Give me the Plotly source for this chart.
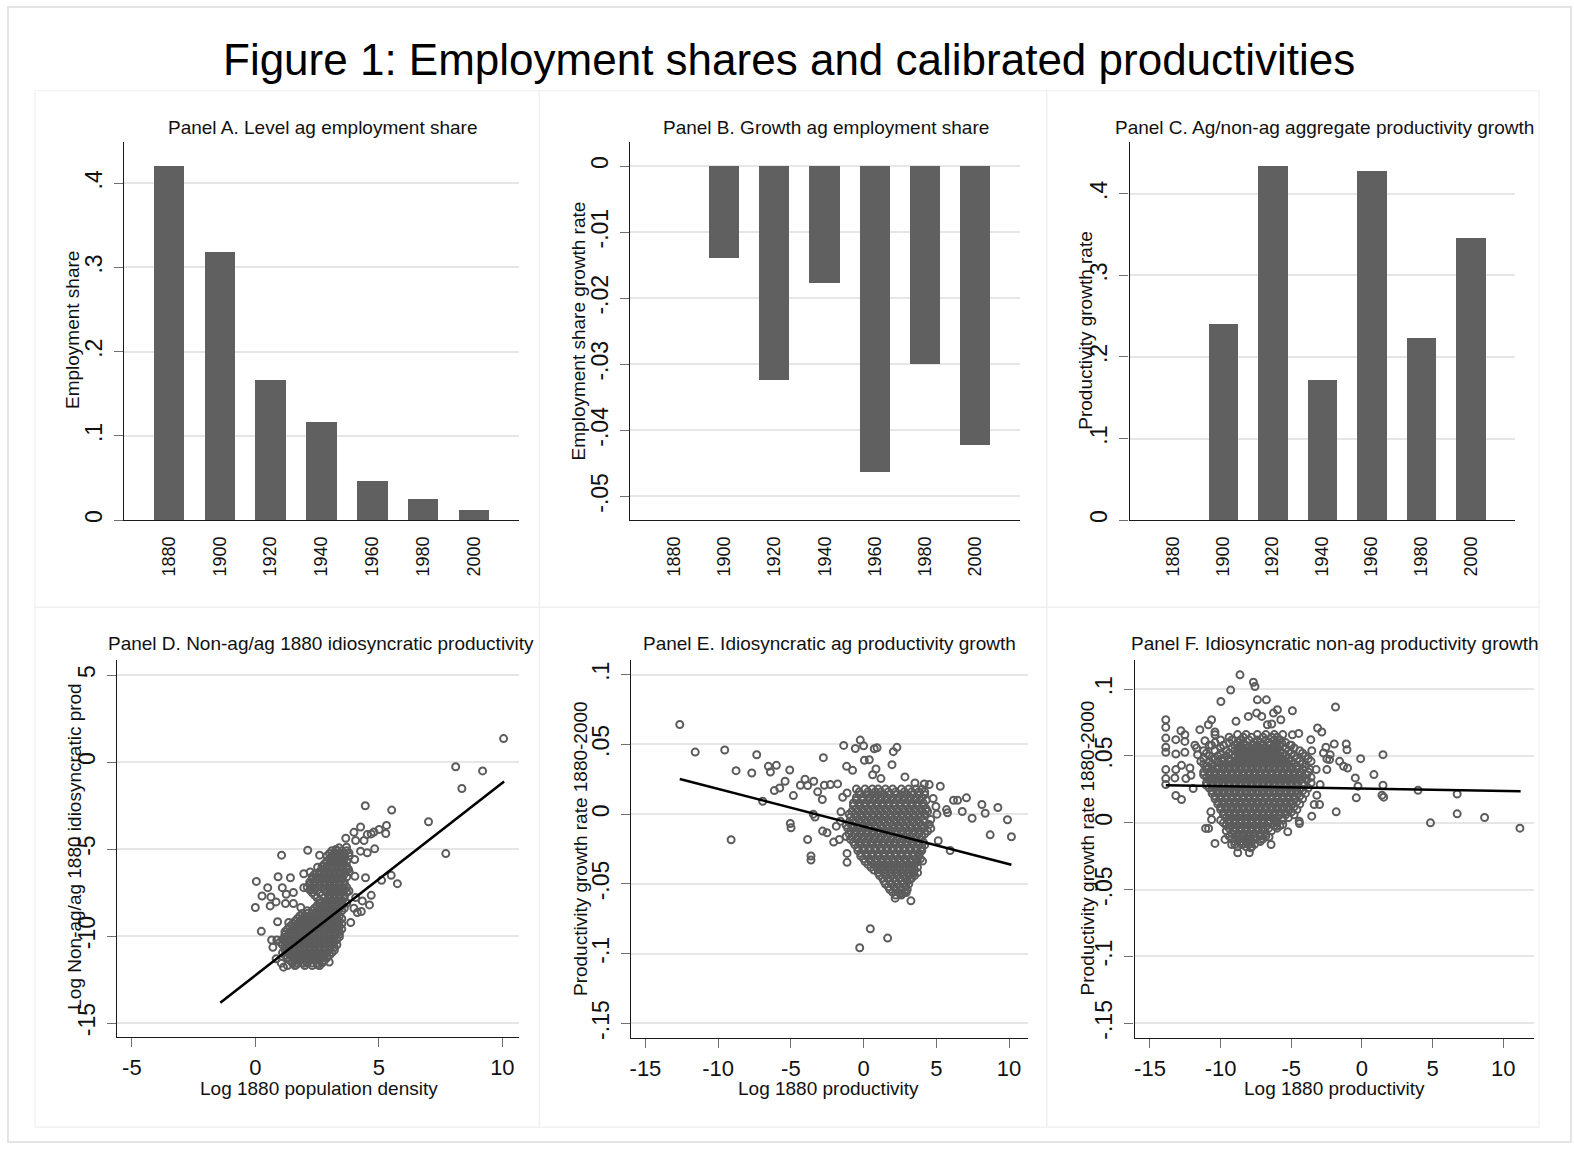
import plotly.graph_objects as go

# ---------------- data ----------------
years = [1880, 1900, 1920, 1940, 1960, 1980, 2000]
emp_share = [0.4204, 0.3189, 0.1668, 0.1170, 0.0469, 0.0261, 0.0122]
emp_growth = [None, -0.0139, -0.0323, -0.0177, -0.0463, -0.0299, -0.0421]
prod_growth = [None, 0.2413, 0.4341, 0.1722, 0.4286, 0.2232, 0.3465]

share_ticks = [0, 0.1, 0.2, 0.3, 0.4]
share_ticktext = ["0", ".1", ".2", ".3", ".4"]
growth_ticks = [0, -0.01, -0.02, -0.03, -0.04, -0.05]
growth_ticktext = ["0", "-.01", "-.02", "-.03", "-.04", "-.05"]
d_yticks = [5, 0, -5, -10, -15]
d_xticks = [-5, 0, 5, 10]
ef_yticks = [0.1, 0.05, 0, -0.05, -0.1, -0.15]
ef_yticktext = [".1", ".05", "0", "-.05", "-.1", "-.15"]
ef_xticks = [-15, -10, -5, 0, 5, 10]

# Panel D: scattered points (x, y)
D_points = [
    (10.05, 1.35), (8.11, -0.27), (9.20, -0.51), (8.36, -1.52), (7.01, -3.43), (7.71, -5.26),
    (4.45, -2.51), (5.52, -2.76), (5.31, -3.64), (5.28, -4.11), (5.01, -3.87), (4.80, -4.02),
    (4.69, -4.13), (4.53, -4.17), (4.26, -3.73), (3.99, -4.04), (3.66, -4.38), (4.06, -4.51),
    (4.40, -4.51), (4.83, -4.99), (4.26, -5.12), (4.53, -5.22), (5.50, -6.51), (5.75, -6.99),
    (5.11, -6.80), (4.46, -6.65), (4.03, -6.57), (4.69, -7.66), (4.62, -8.21), (4.29, -8.59),
    (3.99, -8.40), (3.86, -9.22), (1.06, -5.35), (2.12, -5.07), (2.60, -5.35), (0.04, -6.86),
    (0.92, -6.59), (1.42, -6.65), (0.50, -7.22), (0.27, -7.70), (0.63, -7.75), (0.00, -8.36),
    (0.60, -8.27), (0.84, -8.04), (1.09, -7.22), (1.25, -7.60), (1.54, -7.50), (1.54, -8.13),
    (1.22, -8.13), (0.24, -9.73), (1.84, -8.36), (0.90, -9.18), (0.66, -10.23), (0.87, -10.23),
    (1.35, -9.22), (1.96, -6.42), (2.22, -6.32), (1.96, -7.22), (2.25, -7.31), (2.52, -6.04),
    (2.72, -5.98), (3.53, -5.50), (3.79, -5.22), (4.02, -5.60), (3.77, -6.17), (3.79, -7.41),
    (4.06, -7.79), (4.33, -7.98), (4.13, -8.65), (2.99, -11.50), (2.52, -11.66), (1.96, -11.56),
    (1.65, -11.66), (1.14, -11.79), (1.05, -11.56), (0.84, -11.31), (0.71, -10.65), (3.26, -5.03),
    (3.39, -4.93), (3.69, -4.90),
]
# Panel D: dense core, rows of (y, [x ...])
D_core = [
    (-5.1, [3.1, 3.3, 3.5, 3.7]),
    (-5.25, [3.0, 3.2, 3.4, 3.6]),
    (-5.4, [2.9, 3.1, 3.3, 3.5, 3.8]),
    (-5.55, [3.0, 3.2, 3.4, 3.6]),
    (-5.7, [2.9, 3.1, 3.3, 3.5, 3.7]),
    (-5.85, [2.8, 3.0, 3.2, 3.4, 3.6]),
    (-6.0, [2.7, 2.9, 3.1, 3.3, 3.5, 3.7]),
    (-6.15, [2.7, 2.9, 3.1, 3.3, 3.5, 3.7]),
    (-6.3, [2.6, 2.8, 3.0, 3.2, 3.4, 3.6, 3.8]),
    (-6.45, [2.4, 2.6, 2.8, 3.0, 3.2, 3.4, 3.6]),
    (-6.6, [2.3, 2.5, 2.7, 2.9, 3.1, 3.3, 3.5, 3.7]),
    (-6.75, [2.3, 2.5, 2.7, 2.9, 3.1, 3.3, 3.5]),
    (-6.9, [2.2, 2.4, 2.6, 2.8, 3.0, 3.2, 3.4, 3.6]),
    (-7.05, [2.2, 2.4, 2.6, 2.8, 3.0, 3.2, 3.4, 3.6]),
    (-7.2, [2.1, 2.3, 2.5, 2.7, 2.9, 3.1, 3.3, 3.5, 3.7]),
    (-7.35, [2.2, 2.4, 2.8, 3.0, 3.2, 3.4, 3.6]),
    (-7.5, [2.3, 2.6, 2.9, 3.1, 3.3, 3.5, 3.7]),
    (-7.65, [2.4, 2.7, 3.0, 3.2, 3.4, 3.6]),
    (-7.8, [2.5, 2.8, 3.0, 3.2, 3.4, 3.6]),
    (-7.95, [2.6, 2.9, 3.1, 3.3, 3.5]),
    (-8.1, [2.6, 2.9, 3.1, 3.3, 3.5, 3.7]),
    (-8.25, [2.5, 2.7, 2.9, 3.1, 3.3, 3.5]),
    (-8.4, [2.4, 2.6, 2.8, 3.0, 3.2, 3.4, 3.6]),
    (-8.55, [2.1, 2.3, 2.5, 2.7, 2.9, 3.1, 3.3, 3.5]),
    (-8.7, [1.9, 2.1, 2.3, 2.5, 2.7, 2.9, 3.1, 3.3]),
    (-8.85, [1.8, 2.0, 2.2, 2.4, 2.6, 2.8, 3.0, 3.2, 3.4]),
    (-9.0, [1.7, 1.9, 2.1, 2.3, 2.5, 2.7, 2.9, 3.1, 3.3, 3.5]),
    (-9.15, [1.6, 1.8, 2.0, 2.2, 2.4, 2.6, 2.8, 3.0, 3.2, 3.4]),
    (-9.3, [1.5, 1.7, 1.9, 2.1, 2.3, 2.5, 2.7, 2.9, 3.1, 3.3, 3.5]),
    (-9.45, [1.4, 1.6, 1.8, 2.0, 2.2, 2.4, 2.6, 2.8, 3.0, 3.2, 3.4]),
    (-9.6, [1.3, 1.5, 1.7, 1.9, 2.1, 2.3, 2.5, 2.7, 2.9, 3.1, 3.3, 3.5]),
    (-9.75, [1.2, 1.4, 1.6, 1.8, 2.0, 2.2, 2.4, 2.6, 2.8, 3.0, 3.2, 3.4]),
    (-9.9, [1.2, 1.4, 1.6, 1.8, 2.0, 2.2, 2.4, 2.6, 2.8, 3.0, 3.2, 3.4]),
    (-10.05, [1.2, 1.4, 1.6, 1.8, 2.0, 2.2, 2.4, 2.6, 2.8, 3.0, 3.2, 3.4]),
    (-10.2, [1.1, 1.3, 1.5, 1.7, 1.9, 2.1, 2.3, 2.5, 2.7, 2.9, 3.1, 3.3]),
    (-10.35, [1.0, 1.2, 1.4, 1.6, 1.8, 2.0, 2.2, 2.4, 2.6, 2.8, 3.0, 3.2]),
    (-10.5, [1.1, 1.3, 1.5, 1.7, 1.9, 2.1, 2.3, 2.5, 2.7, 2.9, 3.1, 3.3]),
    (-10.65, [1.2, 1.4, 1.6, 1.8, 2.0, 2.2, 2.4, 2.6, 2.8, 3.0, 3.2]),
    (-10.8, [1.2, 1.4, 1.6, 1.8, 2.0, 2.2, 2.4, 2.6, 2.8, 3.0, 3.2]),
    (-10.95, [1.1, 1.3, 1.5, 1.7, 1.9, 2.1, 2.3, 2.5, 2.7, 2.9, 3.1]),
    (-11.1, [1.2, 1.4, 1.6, 1.8, 2.0, 2.2, 2.4, 2.6, 2.8, 3.0]),
    (-11.25, [1.3, 1.5, 1.7, 1.9, 2.1, 2.3, 2.5, 2.7, 2.9]),
    (-11.4, [1.4, 1.6, 1.8, 2.0, 2.2, 2.4, 2.6, 2.8]),
    (-11.55, [1.5, 1.7, 1.9, 2.1, 2.3, 2.5, 2.7]),
    (-11.7, [1.3, 1.6, 2.0, 2.3, 2.6]),
]
D_fit_x = [-1.42, 10.07]
D_fit_y = [-13.83, -1.12]

# Panel E
E_points = [
    (-12.64, 0.0643), (-11.58, 0.0445), (-9.55, 0.0460), (-8.77, 0.0312), (-7.35, 0.0426),
    (-7.69, 0.0295), (-9.11, -0.0183), (-6.55, 0.0343), (-6.41, 0.0302), (-6.00, 0.0350),
    (-6.14, 0.0169), (-5.77, 0.0188), (-5.40, 0.0236), (-5.08, 0.0317), (-4.83, 0.0133),
    (-6.94, 0.0093), (-4.35, 0.0207), (-4.03, 0.0250), (-3.85, 0.0205), (-3.43, 0.0236),
    (-3.16, 0.0160), (-2.77, 0.0405), (-2.70, 0.0207), (-2.29, 0.0212), (-1.79, 0.0217),
    (-5.04, -0.0067), (-4.99, -0.0098), (-3.85, -0.0181), (-3.62, -0.0300), (-3.62, -0.0329),
    (-3.46, 0.0000), (-3.34, -0.0021), (-2.84, 0.0105), (-2.82, -0.0121), (-2.52, -0.0133),
    (-2.06, -0.0200), (-1.88, -0.0086), (-1.67, -0.0181), (-1.37, 0.0493), (-1.17, 0.0343),
    (-0.76, 0.0314), (-1.14, 0.0152), (-1.44, 0.0121), (-1.56, 0.0017), (-1.60, -0.0050),
    (-1.14, -0.0281), (-1.14, -0.0345), (-0.57, 0.0471), (-0.23, 0.0531), (0.00, 0.0490),
    (0.05, 0.0386), (0.39, 0.0390), (0.73, 0.0469), (0.92, 0.0476), (0.85, 0.0324),
    (0.62, 0.0283), (1.19, 0.0255), (1.95, 0.0355), (2.04, 0.0448), (2.29, 0.0479),
    (2.84, 0.0267), (3.53, 0.0224), (4.17, 0.0217), (4.51, 0.0212), (5.27, 0.0200),
    (4.78, 0.0112), (4.97, 0.0055), (5.04, 0.0000), (4.62, -0.0038), (4.62, -0.0102),
    (5.13, -0.0190), (5.70, 0.0033), (5.77, 0.0010), (5.95, -0.0260), (6.18, 0.0100),
    (6.46, 0.0100), (6.78, 0.0019), (7.07, 0.0117), (7.46, -0.0029), (8.13, 0.0069),
    (8.36, 0.0007), (8.70, -0.0148), (9.23, 0.0048), (9.89, -0.0040), (10.16, -0.0162),
    (3.25, -0.0621), (0.46, -0.0821), (1.65, -0.0888), (-0.27, -0.0957), (2.17, -0.0602),
    (3.18, -0.0469), (3.71, -0.0419), (2.93, -0.0562), (2.61, -0.0569), (4.05, -0.0336),
    (3.94, -0.0264), (4.40, -0.0121), (4.51, -0.0074), (4.28, 0.0033),
]
E_core = [
    (0.018, [-0.5, 0.1, 0.6, 1.0, 1.5, 2.0, 2.6, 3.1, 3.6, 4.0]),
    (0.016, [-0.3, 0.3, 0.8, 1.2, 1.7, 2.2, 2.8, 3.3, 3.8, 4.2]),
    (0.014, [-0.3, 0.2, 0.6, 1.0, 1.4, 1.8, 2.2, 2.6, 3.0, 3.4, 3.8, 4.2]),
    (0.012, [-0.5, -0.1, 0.4, 0.8, 1.2, 1.6, 2.0, 2.4, 2.8, 3.2, 3.6, 4.0]),
    (0.010, [-0.5, -0.1, 0.3, 0.7, 1.1, 1.5, 1.9, 2.3, 2.7, 3.1, 3.5, 3.9, 4.3]),
    (0.008, [-0.7, -0.3, 0.1, 0.5, 0.9, 1.3, 1.7, 2.1, 2.5, 2.9, 3.3, 3.7, 4.1]),
    (0.006, [-0.7, -0.3, 0.1, 0.5, 0.9, 1.3, 1.7, 2.1, 2.5, 2.9, 3.3, 3.7, 4.1]),
    (0.004, [-0.5, -0.1, 0.3, 0.7, 1.1, 1.5, 1.9, 2.3, 2.7, 3.1, 3.5, 3.9, 4.3]),
    (0.002, [-0.8, -0.4, 0.0, 0.4, 0.8, 1.2, 1.6, 2.0, 2.4, 2.8, 3.2, 3.6, 4.0, 4.4]),
    (0.000, [-1.0, -0.6, -0.2, 0.2, 0.6, 1.0, 1.4, 1.8, 2.2, 2.6, 3.0, 3.4, 3.8, 4.2]),
    (-0.002, [-0.9, -0.5, -0.1, 0.3, 0.7, 1.1, 1.5, 1.9, 2.3, 2.7, 3.1, 3.5, 3.9]),
    (-0.004, [-0.7, -0.3, 0.1, 0.5, 0.9, 1.3, 1.7, 2.1, 2.5, 2.9, 3.3, 3.7, 4.1]),
    (-0.006, [-1.0, -0.6, -0.2, 0.2, 0.6, 1.0, 1.4, 1.8, 2.2, 2.6, 3.0, 3.4, 3.8, 4.2]),
    (-0.008, [-1.2, -0.8, -0.4, 0.0, 0.4, 0.8, 1.2, 1.6, 2.0, 2.4, 2.8, 3.2, 3.6, 4.0]),
    (-0.010, [-1.1, -0.7, -0.3, 0.1, 0.5, 0.9, 1.3, 1.7, 2.1, 2.5, 2.9, 3.3, 3.7, 4.1]),
    (-0.012, [-0.9, -0.5, -0.1, 0.3, 0.7, 1.1, 1.5, 1.9, 2.3, 2.7, 3.1, 3.5, 3.9]),
    (-0.014, [-1.0, -0.6, -0.2, 0.2, 0.6, 1.0, 1.4, 1.8, 2.2, 2.6, 3.0, 3.4, 3.8, 4.2]),
    (-0.016, [-1.2, -0.8, -0.4, 0.0, 0.4, 0.8, 1.2, 1.6, 2.0, 2.4, 2.8, 3.2, 3.6, 4.0]),
    (-0.018, [-0.9, -0.5, -0.1, 0.3, 0.7, 1.1, 1.5, 1.9, 2.3, 2.7, 3.1, 3.5, 3.9]),
    (-0.020, [-0.7, -0.3, 0.1, 0.5, 0.9, 1.3, 1.7, 2.1, 2.5, 2.9, 3.3, 3.7, 4.1]),
    (-0.022, [-0.6, -0.2, 0.2, 0.6, 1.0, 1.4, 1.8, 2.2, 2.6, 3.0, 3.4, 3.8, 4.2]),
    (-0.024, [-0.4, 0.0, 0.4, 0.8, 1.2, 1.6, 2.0, 2.4, 2.8, 3.2, 3.6, 4.0]),
    (-0.026, [-0.4, 0.0, 0.4, 0.8, 1.2, 1.6, 2.0, 2.4, 2.8, 3.2, 3.6, 4.0]),
    (-0.028, [-0.2, 0.2, 0.6, 1.0, 1.4, 1.8, 2.2, 2.6, 3.0, 3.4, 3.8]),
    (-0.030, [-0.2, 0.2, 0.6, 1.0, 1.4, 1.8, 2.2, 2.6, 3.0, 3.4, 3.8]),
    (-0.032, [0.0, 0.4, 0.8, 1.2, 1.6, 2.0, 2.4, 2.8, 3.2, 3.6, 3.9]),
    (-0.034, [0.1, 0.5, 0.9, 1.3, 1.7, 2.1, 2.5, 2.9, 3.3, 3.7]),
    (-0.036, [0.3, 0.7, 1.1, 1.5, 1.9, 2.3, 2.7, 3.1, 3.5]),
    (-0.038, [0.5, 0.9, 1.3, 1.7, 2.1, 2.5, 2.9, 3.3, 3.7]),
    (-0.040, [0.7, 1.1, 1.5, 1.9, 2.3, 2.7, 3.1, 3.5]),
    (-0.042, [1.0, 1.4, 1.8, 2.2, 2.6, 3.0, 3.4]),
    (-0.044, [1.1, 1.5, 1.9, 2.3, 2.7, 3.1, 3.5]),
    (-0.046, [1.3, 1.7, 2.1, 2.5, 2.9, 3.3]),
    (-0.048, [1.4, 1.8, 2.2, 2.6, 3.0]),
    (-0.050, [1.5, 1.9, 2.3, 2.7, 3.1]),
    (-0.052, [1.7, 2.1, 2.5, 2.9]),
    (-0.054, [1.8, 2.2, 2.6, 3.0]),
    (-0.056, [2.0, 2.4, 2.8]),
    (-0.058, [2.2, 2.6]),
]
E_fit_x = [-12.64, 10.16]
E_fit_y = [0.0252, -0.0362]

# Panel F
F_points = [
    (-13.88, 0.0771), (-13.88, 0.0714), (-13.88, 0.0634), (-13.88, 0.0565), (-13.88, 0.0527),
    (-13.88, 0.0398), (-13.88, 0.0331), (-13.88, 0.0286), (-13.17, 0.0622), (-13.17, 0.0515),
    (-13.17, 0.0398), (-13.24, 0.0336), (-13.17, 0.0204), (-12.77, 0.0174), (-12.77, 0.0430),
    (-12.81, 0.0689), (-12.53, 0.0659), (-12.53, 0.0609), (-12.53, 0.0527), (-12.46, 0.0331),
    (-12.17, 0.0410), (-12.10, 0.0356), (-11.94, 0.0256), (-11.82, 0.0580), (-11.70, 0.0560),
    (-11.47, 0.0697), (-11.63, 0.0510), (-10.87, 0.0734), (-10.64, 0.0771), (-10.40, 0.0679),
    (-10.40, 0.0659), (-11.11, 0.0614), (-10.64, 0.0580), (-9.98, 0.0908), (-9.29, 0.0993),
    (-8.63, 0.1107), (-7.68, 0.1052), (-7.57, 0.1020), (-7.40, 0.0920), (-6.76, 0.0920),
    (-8.91, 0.0759), (-8.04, 0.0796), (-7.45, 0.0821), (-7.09, 0.0796), (-6.26, 0.0821),
    (-5.98, 0.0846), (-5.74, 0.0771), (-6.38, 0.0739), (-6.69, 0.0734), (-4.92, 0.0838),
    (-4.92, 0.0659), (-4.47, 0.0669), (-5.67, 0.0597), (-5.08, 0.0580), (-3.14, 0.0709),
    (-2.84, 0.0679), (-3.62, 0.0622), (-3.55, 0.0540), (-2.72, 0.0522), (-2.55, 0.0565),
    (-2.25, 0.0510), (-2.29, 0.0473), (-1.96, 0.0590), (-1.87, 0.0866), (-1.58, 0.0460),
    (-1.30, 0.0423), (-1.11, 0.0590), (-1.06, 0.0547), (-1.02, 0.0410), (-0.47, 0.0336),
    (-0.09, 0.0480), (-0.28, 0.0274), (-0.40, 0.0187), (0.85, 0.0361), (1.54, 0.0192),
    (1.49, 0.0281), (1.42, 0.0207), (1.49, 0.0510), (-1.82, 0.0082), (-2.48, 0.0398),
    (-2.48, 0.0478), (-3.24, 0.0398), (-2.96, 0.0286), (-3.19, 0.0206), (-3.38, 0.0137),
    (-3.00, 0.0137), (-3.55, 0.0050), (-4.42, -0.0005), (-4.44, 0.0012), (-5.25, -0.0067),
    (-5.60, -0.0012), (-6.03, -0.0025), (-6.43, -0.0162), (-6.57, -0.0107), (-7.14, -0.0124),
    (-7.33, -0.0050), (-7.97, -0.0224), (-7.87, -0.0187), (-8.79, -0.0224), (-8.51, -0.0162),
    (-9.22, -0.0162), (-9.69, -0.0124), (-10.40, -0.0154), (-10.85, -0.0042), (-11.06, -0.0042),
    (-10.64, 0.0025), (-10.69, 0.0082), (3.97, 0.0244), (4.85, 0.0000), (6.74, 0.0216),
    (6.74, 0.0067), (8.68, 0.0040), (11.18, -0.0040),
]
F_core = [
    (0.066, [-8.8, -8.2, -7.4, -6.8, -6.2, -5.6]),
    (0.064, [-9.4, -8.4, -7.8, -7.0, -6.4, -6.0]),
    (0.062, [-10.0, -9.2, -8.6, -8.0, -7.4, -6.8, -6.2, -5.8]),
    (0.060, [-10.4, -9.4, -8.8, -8.4, -7.6, -7.2, -6.6, -6.0, -5.4]),
    (0.058, [-10.8, -9.8, -9.0, -8.6, -8.2, -7.8, -7.4, -7.0, -6.6, -6.2, -5.8, -5.0]),
    (0.056, [-10.0, -9.2, -8.8, -8.4, -8.0, -7.6, -7.2, -6.8, -6.4, -6.0, -5.4, -4.8]),
    (0.054, [-11.2, -10.4, -9.6, -9.0, -8.6, -8.2, -7.8, -7.4, -7.0, -6.6, -6.2, -5.8, -5.2, -4.4]),
    (0.052, [-11.0, -10.0, -9.4, -8.8, -8.4, -8.0, -7.6, -7.2, -6.8, -6.4, -6.0, -5.6, -5.0, -4.2]),
    (0.050, [-10.8, -10.2, -9.6, -9.0, -8.6, -8.2, -7.8, -7.4, -7.0, -6.6, -6.2, -5.8, -5.4, -4.8, -4.0]),
    (0.048, [-11.2, -10.5, -9.9, -9.4, -8.8, -8.4, -8.0, -7.6, -7.2, -6.8, -6.4, -6.0, -5.6, -5.2, -4.6, -3.8]),
    (0.046, [-11.4, -10.8, -10.2, -9.8, -9.4, -9.0, -8.6, -8.2, -7.8, -7.4, -7.0, -6.6, -6.2, -5.8, -5.4, -5.0, -4.4, -3.6]),
    (0.044, [-11.2, -10.6, -10.0, -9.6, -9.2, -8.8, -8.4, -8.0, -7.6, -7.2, -6.8, -6.4, -6.0, -5.6, -5.2, -4.8, -4.2]),
    (0.042, [-11.0, -10.6, -10.2, -9.8, -9.4, -9.0, -8.6, -8.2, -7.8, -7.4, -7.0, -6.6, -6.2, -5.8, -5.4, -5.0, -4.6, -4.0]),
    (0.040, [-11.0, -10.6, -10.2, -9.8, -9.4, -9.0, -8.6, -8.2, -7.8, -7.4, -7.0, -6.6, -6.2, -5.8, -5.4, -5.0, -4.6, -4.2, -3.7]),
    (0.038, [-11.2, -10.8, -10.4, -10.0, -9.6, -9.2, -8.8, -8.4, -8.0, -7.6, -7.2, -6.8, -6.4, -6.0, -5.6, -5.2, -4.8, -4.4, -3.8]),
    (0.036, [-11.2, -10.8, -10.4, -10.0, -9.6, -9.2, -8.8, -8.4, -8.0, -7.6, -7.2, -6.8, -6.4, -6.0, -5.6, -5.2, -4.8, -4.4, -3.9]),
    (0.034, [-11.0, -10.6, -10.2, -9.8, -9.4, -9.0, -8.6, -8.2, -7.8, -7.4, -7.0, -6.6, -6.2, -5.8, -5.4, -5.0, -4.6, -4.2, -3.6]),
    (0.032, [-10.8, -10.4, -10.0, -9.6, -9.2, -8.8, -8.4, -8.0, -7.6, -7.2, -6.8, -6.4, -6.0, -5.6, -5.2, -4.8, -4.4, -3.9]),
    (0.030, [-11.0, -10.6, -10.2, -9.8, -9.4, -9.0, -8.6, -8.2, -7.8, -7.4, -7.0, -6.6, -6.2, -5.8, -5.4, -5.0, -4.6, -4.2, -3.6]),
    (0.028, [-11.0, -10.6, -10.2, -9.8, -9.4, -9.0, -8.6, -8.2, -7.8, -7.4, -7.0, -6.6, -6.2, -5.8, -5.4, -5.0, -4.6, -4.1]),
    (0.026, [-10.8, -10.4, -10.0, -9.6, -9.2, -8.8, -8.4, -8.0, -7.6, -7.2, -6.8, -6.4, -6.0, -5.6, -5.2, -4.8, -4.4, -3.8]),
    (0.024, [-10.6, -10.2, -9.8, -9.4, -9.0, -8.6, -8.2, -7.8, -7.4, -7.0, -6.6, -6.2, -5.8, -5.4, -5.0, -4.6, -4.2]),
    (0.022, [-10.6, -10.2, -9.8, -9.4, -9.0, -8.6, -8.2, -7.8, -7.4, -7.0, -6.6, -6.2, -5.8, -5.4, -5.0, -4.6, -4.0]),
    (0.020, [-10.4, -10.0, -9.6, -9.2, -8.8, -8.4, -8.0, -7.6, -7.2, -6.8, -6.4, -6.0, -5.6, -5.2, -4.8, -4.4]),
    (0.018, [-10.4, -10.0, -9.6, -9.2, -8.8, -8.4, -8.0, -7.6, -7.2, -6.8, -6.4, -6.0, -5.6, -5.2, -4.8, -4.2]),
    (0.016, [-10.2, -9.8, -9.4, -9.0, -8.6, -8.2, -7.8, -7.4, -7.0, -6.6, -6.2, -5.8, -5.4, -5.0, -4.6]),
    (0.014, [-10.2, -9.8, -9.4, -9.0, -8.6, -8.2, -7.8, -7.4, -7.0, -6.6, -6.2, -5.8, -5.4, -5.0, -4.4]),
    (0.012, [-10.0, -9.6, -9.2, -8.8, -8.4, -8.0, -7.6, -7.2, -6.8, -6.4, -6.0, -5.6, -5.2, -4.8]),
    (0.010, [-10.0, -9.6, -9.2, -8.8, -8.4, -8.0, -7.6, -7.2, -6.8, -6.4, -6.0, -5.6, -5.2, -4.6]),
    (0.008, [-9.8, -9.4, -9.0, -8.6, -8.2, -7.8, -7.4, -7.0, -6.6, -6.2, -5.8, -5.4, -5.0]),
    (0.006, [-9.8, -9.4, -9.0, -8.6, -8.2, -7.8, -7.4, -7.0, -6.6, -6.2, -5.8, -5.4, -4.8]),
    (0.004, [-9.6, -9.2, -8.8, -8.4, -8.0, -7.6, -7.2, -6.8, -6.4, -6.0, -5.6, -5.2]),
    (0.002, [-10.0, -9.4, -9.0, -8.6, -8.2, -7.8, -7.4, -7.0, -6.6, -6.2, -5.6]),
    (0.000, [-9.8, -9.4, -9.0, -8.6, -8.2, -7.8, -7.4, -7.0, -6.6, -6.0]),
    (-0.002, [-9.6, -9.2, -8.8, -8.4, -8.0, -7.6, -7.2, -6.8, -6.2, -5.8]),
    (-0.004, [-9.4, -9.0, -8.6, -8.2, -7.8, -7.4, -7.0, -6.6, -6.0]),
    (-0.006, [-9.6, -9.0, -8.6, -8.2, -7.8, -7.4, -7.0, -6.4]),
    (-0.008, [-9.2, -8.8, -8.4, -8.0, -7.6, -7.2, -6.8]),
    (-0.010, [-9.4, -8.8, -8.4, -8.0, -7.6, -7.2, -6.8]),
    (-0.012, [-9.2, -8.8, -8.4, -8.0, -7.6, -7.0]),
    (-0.014, [-9.0, -8.6, -8.2, -7.8, -7.2]),
    (-0.016, [-9.0, -8.4, -8.0, -7.6]),
    (-0.018, [-8.8, -8.2, -7.8]),
]
F_fit_x = [-13.88, 11.23]
F_fit_y = [0.0281, 0.0236]

# ---------------- styling / layout ----------------
W, H = 1574, 1150
FONT = "Liberation Sans, Arial, sans-serif"
BAR_C = "#606060"
PT_C = "#5c5c5c"
GRID_C = "#e6e6e6"
AX_C = "#1a1a1a"
TICK_C = "#707070"


def xdom(a, b):
    return [a / W, b / W]


def ydom(top, bottom):
    return [1 - bottom / H, 1 - top / H]


def collect(points, core):
    xs = [p[0] for p in points]
    ys = [p[1] for p in points]
    for yv, row in core:
        for xv in row:
            xs.append(xv)
            ys.append(yv)
    return xs, ys


fig = go.Figure()

bar_sets = [(emp_share, "x", "y"), (emp_growth, "x2", "y2"), (prod_growth, "x3", "y3")]
for vals, xa, ya in bar_sets:
    fig.add_trace(go.Bar(x=years, y=vals, width=12, marker=dict(color=BAR_C, line=dict(width=0)),
                         xaxis=xa, yaxis=ya, hoverinfo="x+y"))

scat_sets = [
    (D_points, D_core, D_fit_x, D_fit_y, "x4", "y4"),
    (E_points, E_core, E_fit_x, E_fit_y, "x5", "y5"),
    (F_points, F_core, F_fit_x, F_fit_y, "x6", "y6"),
]
for pts, core, fx, fy, xa, ya in scat_sets:
    xs, ys = collect(pts, core)
    fig.add_trace(go.Scatter(x=xs, y=ys, mode="markers", xaxis=xa, yaxis=ya,
                             marker=dict(symbol="circle-open", size=7, color=PT_C,
                                         line=dict(width=2, color=PT_C))))
    fig.add_trace(go.Scatter(x=fx, y=fy, mode="lines", xaxis=xa, yaxis=ya,
                             line=dict(color="black", width=2.6)))

common_y = dict(showline=True, linecolor=AX_C, linewidth=1.3, ticks="outside", ticklen=9,
                tickcolor=TICK_C, tickwidth=1.3, showgrid=True, gridcolor=GRID_C, gridwidth=1.6,
                zeroline=False, tickangle=-90, tickfont=dict(family=FONT, size=23, color="#111"),
                ticklabelstandoff=3)
common_x_bar = dict(showline=True, linecolor=AX_C, linewidth=1.3, ticks="", showgrid=False,
                    zeroline=False, tickangle=-90, tickvals=years, ticktext=[str(y) for y in years],
                    tickfont=dict(family=FONT, size=18, color="#111"), range=[1862.3, 2017.9],
                    ticklabelstandoff=8)
common_x_sc = dict(showline=True, linecolor=AX_C, linewidth=1.3, ticks="outside", ticklen=9,
                   tickcolor=TICK_C, tickwidth=1.3, showgrid=False, zeroline=False,
                   tickfont=dict(family=FONT, size=22, color="#111"), ticklabelstandoff=1)

panels = {
    1: (122, 518, 142, 521.5),
    2: (629, 1019, 142, 521.5),
    3: (1129, 1515, 142, 521.5),
    4: (115, 518, 662, 1040),
    5: (630, 1027, 662, 1041),
    6: (1134, 1534, 662, 1041),
}

layout = dict(width=W, height=H, margin=dict(l=0, r=0, t=0, b=0), plot_bgcolor="white",
              paper_bgcolor="white", showlegend=False, bargap=0)

yspec = {
    1: dict(range=[0, 0.4494], tickvals=share_ticks, ticktext=share_ticktext),
    2: dict(range=[-0.0536, 0.0037], tickvals=growth_ticks, ticktext=growth_ticktext),
    3: dict(range=[0, 0.4639], tickvals=share_ticks, ticktext=share_ticktext),
    4: dict(range=[-15.82, 5.85], tickvals=d_yticks, ticktext=[str(v) for v in d_yticks]),
    5: dict(range=[-0.1606, 0.1103], tickvals=ef_yticks, ticktext=ef_yticktext),
    6: dict(range=[-0.1612, 0.1216], tickvals=ef_yticks, ticktext=ef_yticktext),
}
xspec = {
    4: dict(range=[-5.607, 10.687], tickvals=d_xticks, ticktext=[str(v) for v in d_xticks]),
    5: dict(range=[-15.98, 11.28], tickvals=ef_xticks, ticktext=[str(v) for v in ef_xticks]),
    6: dict(range=[-16.09, 12.18], tickvals=ef_xticks, ticktext=[str(v) for v in ef_xticks]),
}

for i, (l, r, t, b) in panels.items():
    sfx = "" if i == 1 else str(i)
    xa = dict(common_x_bar if i <= 3 else common_x_sc)
    if i > 3:
        xa.update(xspec[i])
    xa.update(domain=xdom(l, r), anchor="y" + sfx)
    ya = dict(common_y)
    ya.update(yspec[i])
    ya.update(domain=ydom(t, b), anchor="x" + sfx)
    layout["xaxis" + sfx] = xa
    layout["yaxis" + sfx] = ya

annotations = []


def txt(text, x, y, size, angle=0, color="#111"):
    annotations.append(dict(text=text, x=x / W, y=1 - y / H, xref="paper", yref="paper",
                            showarrow=False, xanchor="center", yanchor="middle", textangle=angle,
                            font=dict(family=FONT, size=size, color=color)))


txt("Figure 1: Employment shares and calibrated productivities", 788, 60, 44, color="#000")
txt("Panel A. Level ag employment share", 321, 127.5, 19)
txt("Panel B. Growth ag employment share", 825, 127.5, 19)
txt("Panel C. Ag/non-ag aggregate productivity growth", 1324, 127.5, 19)
txt("Panel D. Non-ag/ag 1880 idiosyncratic productivity", 319, 645, 19)
txt("Panel E. Idiosyncratic ag productivity growth", 829, 645, 19)
txt("Panel F. Idiosyncratic non-ag productivity growth", 1335, 645, 19)
txt("Employment share", 70, 331, 19, -90)
txt("Employment share growth rate", 577, 332, 19, -90)
txt("Productivity growth rate", 1085, 331, 19, -90)
txt("Log Non-ag/ag 1880 idiosyncratic prod", 73, 849, 19, -90)
txt("Productivity growth rate 1880-2000", 580, 851, 19, -90)
txt("Productivity growth rate 1880-2000", 1087, 850, 19, -90)
txt("Log 1880 population density", 317, 1091, 19)
txt("Log 1880 productivity", 828, 1091, 19)
txt("Log 1880 productivity", 1334, 1091, 19)
layout["annotations"] = annotations


def rect(x0, y0, x1, y1, color, width):
    return dict(type="rect", xref="paper", yref="paper", x0=x0 / W, x1=x1 / W,
                y0=1 - y1 / H, y1=1 - y0 / H, line=dict(color=color, width=width),
                fillcolor="rgba(0,0,0,0)", layer="below")


shapes = [rect(6, 7, 1571, 1145, "#e4e4e4", 2)]
for (x0, x1) in [(33, 538), (538, 1046), (1046, 1539)]:
    for (y0, y1) in [(91, 609), (609, 1130)]:
        shapes.append(rect(x0, y0, x1, y1, "#f0f0f0", 1.2))
layout["shapes"] = shapes

fig.update_layout(**layout)
fig.write_html("out.html", config={"displayModeBar": False},
               post_script="document.body.style.margin='0';document.body.style.overflow='hidden';")
